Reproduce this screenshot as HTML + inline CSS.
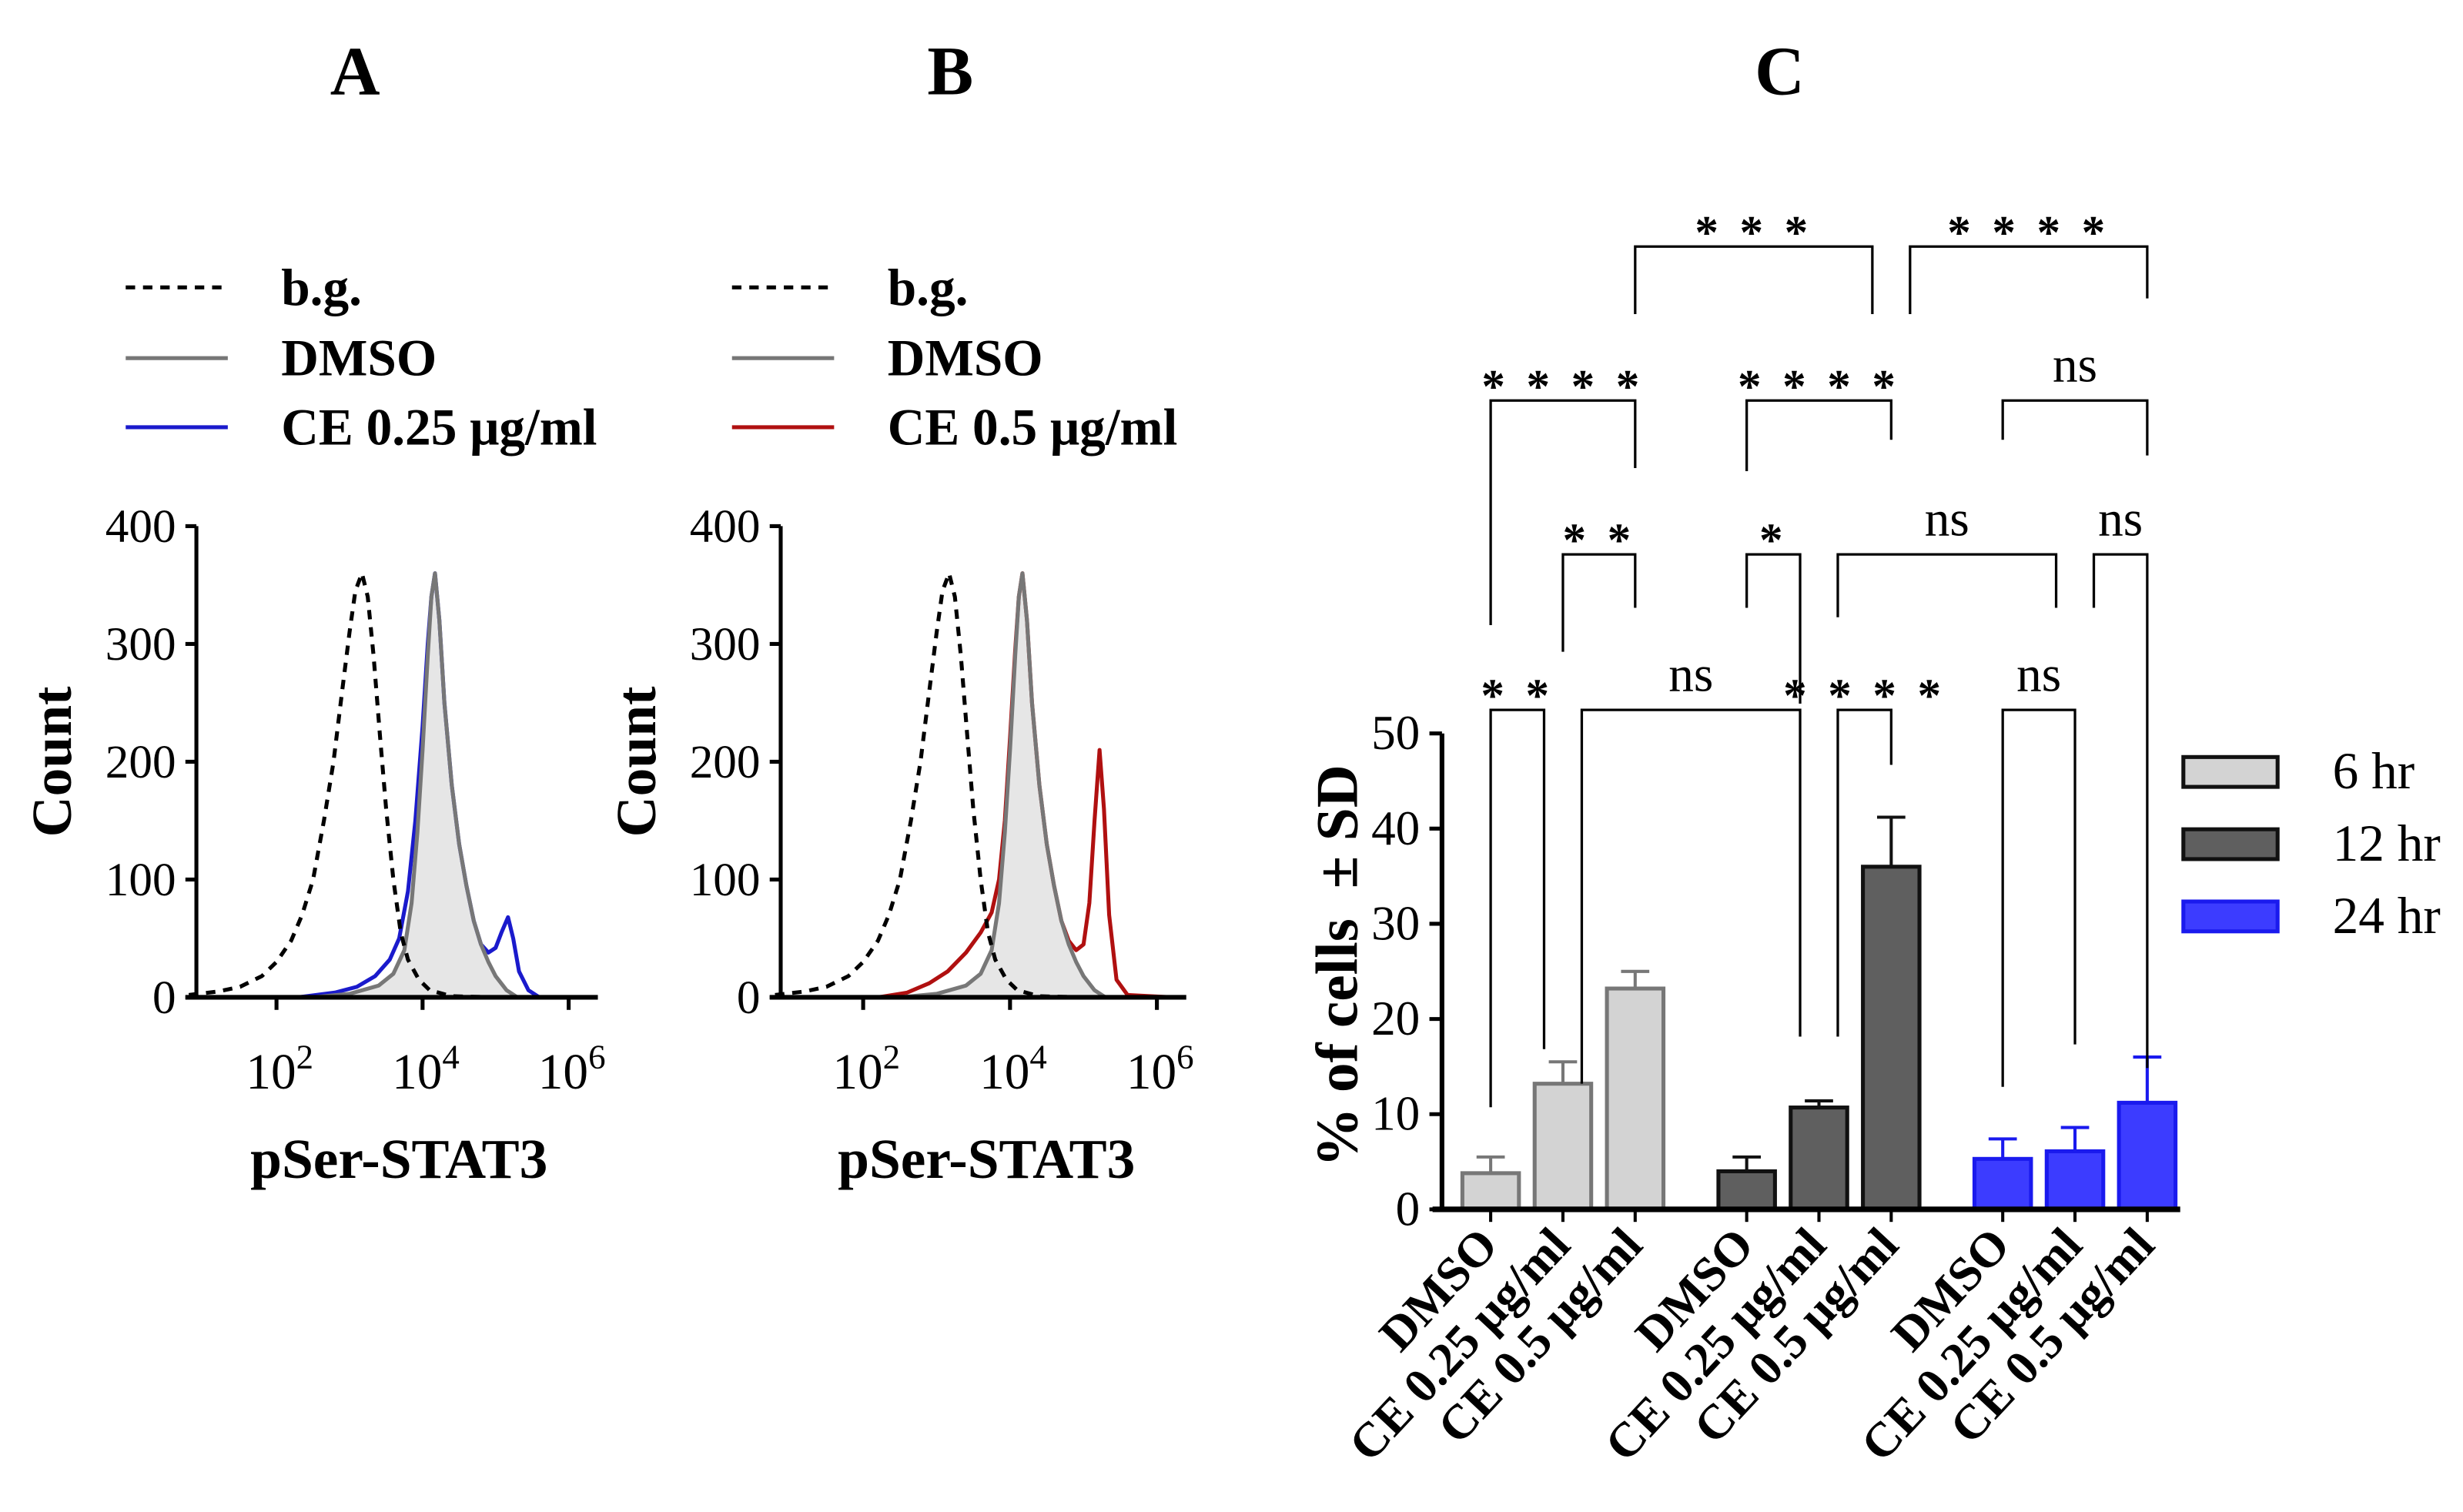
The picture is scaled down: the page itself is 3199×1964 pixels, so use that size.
<!DOCTYPE html>
<html><head><meta charset="utf-8"><style>
html,body{margin:0;padding:0;background:#fff}
svg{display:block}
text{font-family:"Liberation Serif",serif}
</style></head><body>
<svg id="fig" width="3199" height="1964" viewBox="0 0 1568 962.7" xmlns="http://www.w3.org/2000/svg">
<text x="226" y="60" font-size="44" font-weight="bold" text-anchor="middle">A</text>
<text x="605" y="60" font-size="44" font-weight="bold" text-anchor="middle">B</text>
<text x="1133" y="60" font-size="44" font-weight="bold" text-anchor="middle">C</text>
<g id="hist"></g>
<g id="bars"></g>
</svg>
<script>
// ---- Histogram data (log10 fluorescence, count) ----
const bgLog   = [0.8,1.2,1.5,1.8,2.0,2.2,2.35,2.5,2.65,2.78,2.9,3.0,3.08,3.17,3.25,3.33,3.42,3.5,3.6,3.7,3.8,3.95,4.1,4.4,5.0,6.2];
const bgCnt   = [2,5,9,18,30,48,70,100,150,200,260,310,345,360,340,290,220,160,100,55,32,15,6,1,0,0];
const dmsoLog = [0.8,2.5,3.0,3.4,3.6,3.75,3.85,3.93,4.0,4.07,4.12,4.17,4.23,4.3,4.4,4.5,4.6,4.7,4.8,4.9,5.0,5.15,5.3,6.2];
const dmsoCnt = [0,0,3,10,20,40,80,140,210,290,340,360,320,250,180,130,95,65,45,30,18,6,0,0];
const ce25Log = [0.8,2.3,2.8,3.1,3.35,3.55,3.68,3.8,3.9,4.0,4.07,4.12,4.17,4.23,4.3,4.4,4.5,4.6,4.7,4.8,4.9,5.0,5.08,5.17,5.24,5.32,5.45,5.6,6.2];
const ce25Cnt = [0,0,4,9,18,32,50,90,150,230,300,340,360,320,250,180,130,95,65,45,38,42,55,68,50,22,6,0,0];
const ce5Log  = [0.8,2.2,2.6,2.9,3.15,3.4,3.6,3.75,3.85,3.93,4.0,4.07,4.12,4.17,4.23,4.3,4.4,4.5,4.6,4.7,4.8,4.9,5.0,5.08,5.15,5.22,5.28,5.35,5.45,5.6,6.2];
const ce5Cnt  = [0,0,4,12,22,38,55,72,100,150,220,295,340,360,320,250,180,130,95,65,48,40,45,80,150,210,160,70,15,2,0];
const countTicks = [0,100,200,300,400];
const logTicks = [2,4,6];

// ---- Bar chart data ----
const groups = ["6 hr","12 hr","24 hr"];
const conds = ["DMSO","CE 0.25 μg/ml","CE 0.5 μg/ml"];
const means = [[3.8,13.2,23.2],[4.0,10.7,36.0],[5.3,6.1,11.2]];
const sds   = [[1.7,2.3,1.8],[1.5,0.7,5.2],[2.1,2.5,4.8]];
const yTicks = [0,10,20,30,40,50];
// brackets: [leftBar, leftSide(-1 left edge,0 centre,1 right edge), rightBar, rightSide, level y, leftLegEnd, rightLegEnd, label]
const brackets = [
 [0,0,1,-1,452,705,668,"* *"],[1,1,4,-1,452,690,660,"ns"],[4,1,5,0,452,660,487,"* * * *"],[6,0,7,0,452,692,665,"ns"],
 [1,0,2,0,353,415,387,"* *"],[3,0,4,-1,353,387,448,"*"],[4,1,7,-1,353,393,387,"ns"],[7,1,8,0,353,387,680,"ns"],
 [0,0,2,0,255,398,298,"* * * *"],[3,0,5,0,255,300,280,"* * * *"],[6,0,8,0,255,280,290,"ns"],
 [2,0,5,-1,157,200,200,"* * *"],[5,1,8,0,157,200,190,"* * * *"]
];

const NS="http://www.w3.org/2000/svg";
function mk(tag,attrs,parent,txt){const e=document.createElementNS(NS,tag);for(const k in attrs)e.setAttribute(k,attrs[k]);if(txt!==undefined)e.textContent=txt;parent.appendChild(e);return e;}

const H=document.getElementById('hist');
function panel(ax0,lx,t2,t6,lastLog,lastCnt,lastColor,lastLabel,pfx){
  const yAxX=ax0, y0=635, y400=335;
  const xs=v=>t2+(v-2)*(t6-t2)/4;
  const ys=c=>y0+(c/400)*(y400-y0);
  const g=mk('g',{},H);
  
  
  const legY=[183,228,272];
  const l1=mk('line',{x1:lx,x2:lx+65,y1:legY[0],y2:legY[0],stroke:'#000','stroke-width':2.5,'stroke-dasharray':'6,5'},g);
  
  const l2=mk('line',{x1:lx,x2:lx+65,y1:legY[1],y2:legY[1],stroke:'#777','stroke-width':2.5},g);
  
  const l3=mk('line',{x1:lx,x2:lx+65,y1:legY[2],y2:legY[2],stroke:lastColor,'stroke-width':2.5},g);
  
  const labs=["b.g.","DMSO",lastLabel];
  labs.forEach((s,i)=>{const t=mk('text',{x:lx+99,y:legY[i]+11,'font-size':33,'font-weight':'bold'},g,s);
    });
  const pts=a=>a[0].map((v,i)=>xs(v).toFixed(1)+','+ys(a[1][i]).toFixed(1)).join(' ');
  const f=mk('polygon',{points:xs(dmsoLog[0])+','+y0+' '+pts([dmsoLog,dmsoCnt])+' '+xs(dmsoLog[dmsoLog.length-1])+','+y0,fill:'#e6e6e6',stroke:'none'},g);
  
  const pl=mk('polyline',{points:pts([lastLog,lastCnt]),fill:'none',stroke:lastColor,'stroke-width':2.5,'stroke-linejoin':'round'},g);
  
  const pd=mk('polyline',{points:pts([dmsoLog,dmsoCnt]),fill:'none',stroke:'#777','stroke-width':2.5,'stroke-linejoin':'round'},g);
  
  const pb=mk('polyline',{points:pts([bgLog,bgCnt]),fill:'none',stroke:'#000','stroke-width':2.5,'stroke-dasharray':'6,5'},g);
  
  const ya=mk('line',{x1:yAxX,x2:yAxX,y1:y400,y2:y0,stroke:'#000','stroke-width':2.5},g);
  
  const xa=mk('line',{x1:yAxX-7,x2:xs(6.4),y1:y0,y2:y0,stroke:'#000','stroke-width':3},g);
  
  countTicks.forEach(c=>{
    mk('line',{x1:yAxX-7,x2:yAxX,y1:ys(c),y2:ys(c),stroke:'#000','stroke-width':2.5},g);
    const t=mk('text',{x:yAxX-13,y:ys(c)+10,'font-size':30,'text-anchor':'end'},g,String(c));
    
  });
  logTicks.forEach(v=>{
    mk('line',{x1:xs(v),x2:xs(v),y1:y0,y2:y0+8,stroke:'#000','stroke-width':2.5},g);
    const t=mk('text',{x:xs(v)+2,y:y0+58,'font-size':32,'text-anchor':'middle'},g);
    
    mk('tspan',{},t,'10');mk('tspan',{dy:-13,'font-size':22},t,String(v));
  });
  const yt=mk('text',{x:0,y:0,'font-size':36,'font-weight':'bold','text-anchor':'middle',transform:`translate(${yAxX-80},485) rotate(-90)`},g,'Count');
  
  const xt=mk('text',{x:xs(4)-15,y:750,'font-size':36,'font-weight':'bold','text-anchor':'middle'},g,'pSer-STAT3');
  
}
panel(125,80,176,362,ce25Log,ce25Cnt,'#1a1acc','CE 0.25 μg/ml','panel-a');
panel(497,466,549.5,736.5,ce5Log,ce5Cnt,'#b01010','CE 0.5 μg/ml','panel-b');

// ---- bar chart ----
const B=document.getElementById('bars');
const ax0=918, axEnd=1388, by0=770, by50=467;
const yv=v=>by0+(v/50)*(by50-by0);
const barX=[949,995,1041,1112,1158,1204,1275,1321,1367];
const bx=(i,side)=>barX[i]+side*12;
const fills=['#d3d3d3','#5f5f5f','#3c3cff'];
const strokes=['#777','#111','#1a1aee'];
means.forEach((gm,gi)=>gm.forEach((m,ci)=>{
  const i=gi*3+ci, cx=barX[i], w=36;
  const e=mk('line',{x1:cx,x2:cx,y1:yv(m),y2:yv(m+sds[gi][ci]),stroke:strokes[gi],'stroke-width':2},B);
  
  mk('line',{x1:cx-9,x2:cx+9,y1:yv(m+sds[gi][ci]),y2:yv(m+sds[gi][ci]),stroke:strokes[gi],'stroke-width':2},B);
  const r=mk('rect',{x:cx-w/2,y:yv(m),width:w,height:by0-yv(m),fill:fills[gi],stroke:strokes[gi],'stroke-width':2.5},B);
  
  mk('line',{x1:cx,x2:cx,y1:by0,y2:by0+8,stroke:'#000','stroke-width':2},B);
  const t=mk('text',{x:0,y:0,'font-size':31,'font-weight':'bold','text-anchor':'end',transform:`translate(${cx+6},${by0+24}) rotate(-47)`},B,conds[ci]);
  
}));
const bya=mk('line',{x1:ax0,x2:ax0,y1:by50,y2:by0,stroke:'#000','stroke-width':3},B);

const bxa=mk('line',{x1:ax0-6,x2:axEnd,y1:by0,y2:by0,stroke:'#000','stroke-width':3.5},B);

yTicks.forEach(v=>{
  mk('line',{x1:ax0-8,x2:ax0,y1:yv(v),y2:yv(v),stroke:'#000','stroke-width':2.5},B);
  const t=mk('text',{x:ax0-14,y:yv(v)+10,'font-size':31,'text-anchor':'end'},B,String(v));
  
});
const byt=mk('text',{x:0,y:0,'font-size':38,'font-weight':'bold','text-anchor':'middle',transform:'translate(864,615) rotate(-90)'},B,'% of cells  ± SD');

byt.setAttribute('xml:space','preserve');byt.style.whiteSpace='pre';
groups.forEach((gname,gi)=>{
  const y=491+gi*46;
  const r=mk('rect',{x:1390,y:y-9,width:60,height:19,fill:fills[gi],stroke:gi==2?strokes[gi]:'#111','stroke-width':2.5},B);
  
  const t=mk('text',{x:1485,y:y+11,'font-size':33},B,gname);
  
});
brackets.forEach(bk=>{
  const [a,as,b,bs,ly,le,re,lab]=bk;
  const xa=bx(a,as), xb=bx(b,bs);
  const p=mk('polyline',{points:`${xa},${le} ${xa},${ly} ${xb},${ly} ${xb},${re}`,fill:'none',stroke:'#000','stroke-width':1.6},B);
  
  const isStar=lab.indexOf('*')>=0;
  const t=mk('text',{x:(xa+xb)/2,y:isStar?ly+1:ly-12,'font-size':isStar?30:32,'font-weight':isStar?'bold':'normal','text-anchor':'middle','letter-spacing':isStar?3:0},B,lab);
  
});
</script>
</body></html>
